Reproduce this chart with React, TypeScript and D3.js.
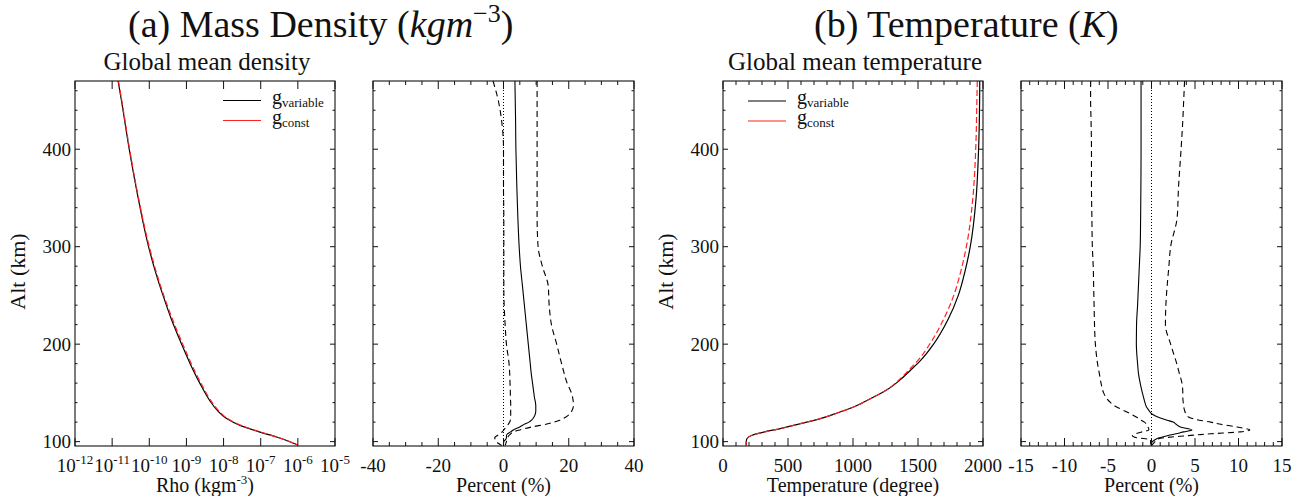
import React from 'react';
import * as d3 from 'd3';

const W = 1305;
const H = 496;

// ---------- data ----------
const ALT_DOMAIN: [number, number] = [95.5, 470];
const ALT_MAJOR = [100, 200, 300, 400];
const ALT_MINOR_STEP = 20;

// density profile (log10 of kg m^-3)
const densAlt = [96.5, 104.7, 109.8, 116.7, 123.6, 132, 142, 160, 180, 200, 225, 250, 275, 300, 350, 400, 450, 470];
const densVarLog = [-6.0, -6.57, -7.02, -7.56, -7.92, -8.17, -8.37, -8.64, -8.9, -9.13, -9.4, -9.63, -9.84, -10.02, -10.3, -10.54, -10.75, -10.84];
const densConstLog = [-6.0, -6.56, -7.0, -7.53, -7.89, -8.14, -8.34, -8.61, -8.87, -9.1, -9.37, -9.61, -9.82, -10.0, -10.29, -10.53, -10.74, -10.83];

// temperature profile (K)
const tempAlt = [96, 98, 101, 103, 106.5, 109.8, 113.3, 118.4, 123.6, 128.7, 135.5, 144, 152.6, 162.8, 173, 183.3, 200, 225, 250, 275, 300, 350, 400, 450, 470];
const tempVar = [178, 178, 180, 184, 223, 313, 441, 595, 749, 864, 1005, 1133, 1255, 1358, 1440, 1520, 1620, 1730, 1810, 1862, 1902, 1947, 1966, 1974, 1975];
const tempConst = [178, 178, 180, 184, 223, 313, 441, 595, 749, 864, 1005, 1133, 1253, 1350, 1426, 1500, 1590, 1695, 1775, 1830, 1872, 1922, 1944, 1953, 1956];

// percent-difference profiles
const ratioAlt = [96, 98, 100, 102, 104, 106, 108, 110, 112, 115, 118, 120, 122, 125, 128, 132, 136, 140, 145, 150, 160, 170, 180, 200, 220, 240, 260, 280, 300, 330, 360, 400, 430, 450, 470];
const densRatioMean = [0, 0, 0.1, 0.6, 0.9, 0.9, 1.2, 2.2, 3.0, 5.0, 6.5, 7.8, 8.6, 9.3, 9.7, 9.9, 9.9, 9.8, 9.5, 9.3, 8.9, 8.5, 8.2, 7.6, 7.0, 6.4, 5.8, 5.2, 4.8, 4.4, 4.1, 3.8, 3.7, 3.6, 3.5];
const densRatioHigh = [0.5, 0.7, 0.9, 1.0, 1.2, 1.6, 2.2, 3.0, 5.0, 8.6, 13.3, 15.5, 17.3, 19.0, 20.2, 21.0, 21.4, 21.4, 21.2, 20.8, 19.5, 18.6, 17.8, 16.3, 14.7, 14.0, 13.7, 11.9, 10.6, 10.3, 10.3, 10.3, 10.3, 10.3, 10.3];
const densRatioLow = [-0.6, -1.5, -2.2, -2.5, -2.7, -2.0, -1.1, -0.4, 0.1, 0.8, 1.5, 1.9, 2.1, 2.2, 2.2, 2.2, 2.2, 2.2, 2.1, 2.1, 2.0, 1.9, 1.7, 0.9, 0.5, 0.2, 0.1, 0.1, 0.1, 0.1, 0.0, 0.0, -0.6, -1.6, -3.2];
const tempRatioMean = [0, 0, 0.1, 0.4, 0.9, 1.8, 2.8, 3.7, 4.65, 3.3, 2.8, 2.5, 1.8, 0.8, 0.1, -0.3, -0.6, -0.75, -0.9, -1.05, -1.3, -1.5, -1.6, -1.74, -1.72, -1.6, -1.5, -1.4, -1.3, -1.25, -1.22, -1.2, -1.2, -1.2, -1.2];
const tempRatioLow = [0, -0.1, -0.1, -0.1, -1.7, -2.2, -1.8, -1.1, -0.3, -0.4, -0.6, -0.8, -1.2, -1.7, -2.3, -3.2, -4.1, -4.7, -5.2, -5.5, -5.8, -6.0, -6.2, -6.45, -6.55, -6.6, -6.65, -6.7, -6.8, -6.85, -6.9, -6.9, -6.95, -7.0, -7.0];
const tempRatioHigh = [0, 0.2, 0.4, 0.6, 1.5, 4.0, 6.8, 10.2, 11.3, 9.8, 7.8, 6.8, 5.5, 4.3, 4.0, 3.8, 3.7, 3.65, 3.6, 3.6, 3.5, 3.2, 2.9, 2.2, 1.6, 1.65, 1.8, 2.0, 2.2, 2.95, 3.1, 3.4, 3.6, 3.7, 3.8];

// axis ticks
const densDecades = [-12, -11, -10, -9, -8, -7, -6, -5];
const densPctMajor = [-40, -20, 0, 20, 40];
const tempMajor = [0, 500, 1000, 1500, 2000];
const tempPctMajor = [-15, -10, -5, 0, 5, 10, 15];

// ---------- layout ----------
const TOP = 81;
const BOTTOM = 446;
const FONT = '"Liberation Serif", "Times New Roman", serif';
const INK = '#111';

const yScale = d3.scaleLinear().domain(ALT_DOMAIN).range([BOTTOM, TOP]);

type Pt = [number, number];

function pathFor(alts: number[], vals: number[], x: (v: number) => number) {
  const pts: Pt[] = alts.map((a, i) => [a, vals[i]] as Pt).sort((p, q) => q[0] - p[0]);
  const line = d3
    .line<Pt>()
    .x((d) => x(d[1]))
    .y((d) => yScale(d[0]))
    .curve(d3.curveMonotoneY);
  return line(pts) || '';
}

function Frame({ x0, x1, xMajor, xMinor, xs }: { x0: number; x1: number; xMajor: number[]; xMinor: number[]; xs: (v: number) => number }) {
  const yMinor = d3.range(100, 470, ALT_MINOR_STEP).filter((v) => !ALT_MAJOR.includes(v));
  const els: React.ReactNode[] = [];
  xMajor.forEach((v, i) => {
    const px = xs(v);
    els.push(<line key={'xb' + i} x1={px} x2={px} y1={BOTTOM} y2={BOTTOM - 8} />);
    els.push(<line key={'xt' + i} x1={px} x2={px} y1={TOP} y2={TOP + 8} />);
  });
  xMinor.forEach((v, i) => {
    const px = xs(v);
    els.push(<line key={'xbm' + i} x1={px} x2={px} y1={BOTTOM} y2={BOTTOM - 4} />);
    els.push(<line key={'xtm' + i} x1={px} x2={px} y1={TOP} y2={TOP + 4} />);
  });
  ALT_MAJOR.forEach((v, i) => {
    const py = yScale(v);
    els.push(<line key={'yl' + i} x1={x0} x2={x0 + 5} y1={py} y2={py} />);
    els.push(<line key={'yr' + i} x1={x1} x2={x1 - 5} y1={py} y2={py} />);
  });
  yMinor.forEach((v, i) => {
    const py = yScale(v);
    els.push(<line key={'ylm' + i} x1={x0} x2={x0 + 2.5} y1={py} y2={py} />);
    els.push(<line key={'yrm' + i} x1={x1} x2={x1 - 2.5} y1={py} y2={py} />);
  });
  return (
    <g stroke={INK} strokeWidth={1}>
      {els}
      <rect x={x0} y={TOP} width={x1 - x0} height={BOTTOM - TOP} fill="none" strokeWidth={1.1} />
    </g>
  );
}

function YLabels({ x0 }: { x0: number }) {
  return (
    <g fontFamily={FONT} fontSize={19} fill={INK} textAnchor="end">
      {ALT_MAJOR.map((v) => (
        <text key={v} x={x0 - 4} y={yScale(v) + 6.5}>
          {v}
        </text>
      ))}
    </g>
  );
}

function Legend({ x, y }: { x: number; y: number }) {
  return (
    <g fontFamily={FONT} fill={INK}>
      <line x1={x} x2={x + 38} y1={y} y2={y} stroke="#000" strokeWidth={1.1} />
      <text x={x + 49} y={y + 3} fontSize={20}>
        g<tspan fontSize={13} dy={3}>variable</tspan>
      </text>
      <line x1={x} x2={x + 38} y1={y + 20} y2={y + 20} stroke="#ff2020" strokeWidth={1.1} />
      <text x={x + 49} y={y + 23} fontSize={20}>
        g<tspan fontSize={13} dy={3}>const</tspan>
      </text>
    </g>
  );
}

export default function App() {
  // panel extents
  const P1: Pt = [75, 335];
  const P2: Pt = [373, 634];
  const P3: Pt = [723, 983];
  const P4: Pt = [1021, 1282];

  const xDens = d3.scaleLog().domain([1e-12, 1e-5]).range(P1);
  const xDensPct = d3.scaleLinear().domain([-40, 40]).range(P2);
  const xTemp = d3.scaleLinear().domain([0, 2000]).range(P3);
  const xTempPct = d3.scaleLinear().domain([-15, 15]).range(P4);

  const logX = (v: number) => xDens(Math.pow(10, v));

  const densPctMinor = d3.range(-40, 41, 5).filter((v) => !densPctMajor.includes(v));
  const tempMinor = d3.range(0, 2001, 100).filter((v) => !tempMajor.includes(v));
  const tempPctMinor = d3.range(-15, 16, 1).filter((v) => !tempPctMajor.includes(v));

  const c = (p: Pt) => (p[0] + p[1]) / 2;
  const tickY = 472;
  const titleY = 492;

  return (
    <svg width={W} height={H} viewBox={`0 0 ${W} ${H}`} style={{ position: 'absolute', left: 0, top: 0, display: 'block', background: '#fff' }}>
      <rect x={0} y={0} width={W} height={H} fill="#fff" />

      {/* main titles */}
      <text x={128} y={37} fontFamily={FONT} fontSize={38} fill={INK}>
        (a) Mass Density (<tspan fontStyle="italic">kgm</tspan>
        <tspan fontSize={26} dy={-15}>−3</tspan>
        <tspan dy={15}>)</tspan>
      </text>
      <text x={814} y={37} fontFamily={FONT} fontSize={38} fill={INK}>
        (b) Temperature (<tspan fontStyle="italic">K</tspan>)
      </text>

      {/* subtitles */}
      <text x={c(P1) + 2} y={70} fontFamily={FONT} fontSize={25} fill={INK} textAnchor="middle">
        Global mean density
      </text>
      <text x={c(P3) + 2} y={70} fontFamily={FONT} fontSize={25} fill={INK} textAnchor="middle">
        Global mean temperature
      </text>

      {/* y axis titles */}
      <text transform={`translate(25, ${(TOP + BOTTOM) / 2 + 8}) rotate(-90)`} fontFamily={FONT} fontSize={22} fill={INK} textAnchor="middle">
        Alt (km)
      </text>
      <text transform={`translate(673, ${(TOP + BOTTOM) / 2 + 8}) rotate(-90)`} fontFamily={FONT} fontSize={22} fill={INK} textAnchor="middle">
        Alt (km)
      </text>

      {/* Panel 1: density */}
      <g>
        <path d={pathFor(densAlt, densVarLog, logX)} fill="none" stroke="#000" strokeWidth={1.2} />
        <path d={pathFor(densAlt, densConstLog, logX)} fill="none" stroke="#ff2020" strokeWidth={1.2} strokeDasharray="6,3" />
        <Frame x0={P1[0]} x1={P1[1]} xMajor={densDecades.map((d) => Math.pow(10, d))} xMinor={[]} xs={xDens} />
        <YLabels x0={P1[0]} />
        <g fontFamily={FONT} fill={INK} textAnchor="middle">
          {densDecades.map((d) => (
            <text key={d} x={xDens(Math.pow(10, d))} y={tickY} fontSize={19}>
              10<tspan fontSize={13} dy={-8}>{String(d)}</tspan>
            </text>
          ))}
        </g>
        <text x={c(P1)} y={titleY} fontFamily={FONT} fontSize={20} fill={INK} textAnchor="middle">
          Rho (kgm<tspan fontSize={13} dy={-8}>-3</tspan>
          <tspan dy={8}>)</tspan>
        </text>
        <Legend x={223} y={100.5} />
      </g>

      {/* Panel 2: density percent */}
      <g>
        <line x1={xDensPct(0)} x2={xDensPct(0)} y1={TOP} y2={BOTTOM} stroke="#000" strokeWidth={1} strokeDasharray="1,2" />
        <path d={pathFor(ratioAlt, densRatioMean, xDensPct)} fill="none" stroke="#000" strokeWidth={1.1} />
        <path d={pathFor(ratioAlt, densRatioHigh, xDensPct)} fill="none" stroke="#000" strokeWidth={1.1} strokeDasharray="6,4" />
        <path d={pathFor(ratioAlt, densRatioLow, xDensPct)} fill="none" stroke="#000" strokeWidth={1.1} strokeDasharray="6,4" />
        <Frame x0={P2[0]} x1={P2[1]} xMajor={densPctMajor} xMinor={densPctMinor} xs={xDensPct} />
        <g fontFamily={FONT} fontSize={19} fill={INK} textAnchor="middle">
          {densPctMajor.map((v) => (
            <text key={v} x={xDensPct(v)} y={tickY}>
              {String(v)}
            </text>
          ))}
        </g>
        <text x={c(P2)} y={titleY} fontFamily={FONT} fontSize={20} fill={INK} textAnchor="middle">
          Percent (%)
        </text>
      </g>

      {/* Panel 3: temperature */}
      <g>
        <path d={pathFor(tempAlt, tempVar, xTemp)} fill="none" stroke="#000" strokeWidth={1.2} />
        <path d={pathFor(tempAlt, tempConst, xTemp)} fill="none" stroke="#ff2020" strokeWidth={1.2} strokeDasharray="6,3" />
        <Frame x0={P3[0]} x1={P3[1]} xMajor={tempMajor} xMinor={tempMinor} xs={xTemp} />
        <YLabels x0={P3[0]} />
        <g fontFamily={FONT} fontSize={19} fill={INK} textAnchor="middle">
          {tempMajor.map((v) => (
            <text key={v} x={xTemp(v)} y={tickY}>
              {String(v)}
            </text>
          ))}
        </g>
        <text x={c(P3)} y={titleY} fontFamily={FONT} fontSize={20} fill={INK} textAnchor="middle">
          Temperature (degree)
        </text>
        <Legend x={748} y={101} />
      </g>

      {/* Panel 4: temperature percent */}
      <g>
        <line x1={xTempPct(0)} x2={xTempPct(0)} y1={TOP} y2={BOTTOM} stroke="#000" strokeWidth={1} strokeDasharray="1,2" />
        <path d={pathFor(ratioAlt, tempRatioMean, xTempPct)} fill="none" stroke="#000" strokeWidth={1.1} />
        <path d={pathFor(ratioAlt, tempRatioHigh, xTempPct)} fill="none" stroke="#000" strokeWidth={1.1} strokeDasharray="6,4" />
        <path d={pathFor(ratioAlt, tempRatioLow, xTempPct)} fill="none" stroke="#000" strokeWidth={1.1} strokeDasharray="6,4" />
        <Frame x0={P4[0]} x1={P4[1]} xMajor={tempPctMajor} xMinor={tempPctMinor} xs={xTempPct} />
        <g fontFamily={FONT} fontSize={19} fill={INK} textAnchor="middle">
          {tempPctMajor.map((v) => (
            <text key={v} x={xTempPct(v)} y={tickY}>
              {String(v)}
            </text>
          ))}
        </g>
        <text x={c(P4)} y={titleY} fontFamily={FONT} fontSize={20} fill={INK} textAnchor="middle">
          Percent (%)
        </text>
      </g>
    </svg>
  );
}
